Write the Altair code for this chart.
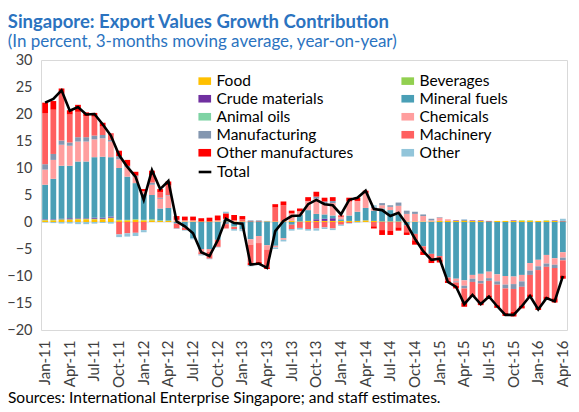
import pandas as pd
import altair as alt

months = [d.strftime("%b-%y") for d in pd.date_range("2011-01-01", "2016-04-01", freq="MS")]

series = ["Food", "Beverages", "Crude materials", "Mineral fuels", "Animal oils",
          "Chemicals", "Manufacturing", "Machinery", "Other manufactures", "Other"]
colors = ["#FFC000", "#92D050", "#7030A0", "#4A9FB6", "#7ED3A4",
          "#FF9E9E", "#8497B0", "#FF6060", "#FF0000", "#92C5DA"]
# the legend fills its columns top to bottom, so list it column by column
legend_order = ["Food", "Crude materials", "Animal oils", "Manufacturing", "Other manufactures",
                "Beverages", "Mineral fuels", "Chemicals", "Machinery", "Other"]
legend_colors = [colors[series.index(s)] for s in legend_order]

# contributions by month, Jan-11 .. Apr-16
food = [0.3, 0.3, 0.4, 0.4, 0.5, 0.5, 0.5, 0.5, 0.7, 0.3, 0.3, 0.4,
        0.3, 0.3, 0.2, 0.2, 0.1, 0.1, 0.1, 0.1, 0.1, 0.1, 0.1, 0.1,
        0.1, 0.1, 0.1, 0.1, 0.1, 0.1, 0.2, 0.1, 0.2, 0.2, 0.2, 0.2,
        0.2, 0.2, 0.2, 0.3, 0.2, 0.1, 0.1, 0.1, 0.1, 0.1, 0.1, 0.1,
        0.2, 0.2, 0.2, 0.2, 0.2, 0.2, 0.1, 0.2, 0.2, 0.2, 0.2, 0.2,
        0.2, 0.2, 0.2, 0.1]
beverages = [0.1, 0.1, 0.1, 0.1, 0.1, 0.1, 0.1, 0.1, 0.1, 0.1, 0.1, 0.1,
             0.1, 0.2, 0.1, 0.1, 0.0, 0.0, 0.0, 0.0, 0.0, 0.0, 0.0, 0.0,
             0.0, 0.0, 0.0, 0.0, 0.0, 0.0, 0.0, 0.0, 0.0, 0.0, 0.0, 0.0,
             0.0, 0.0, 0.0, 0.0, 0.0, 0.0, 0.0, 0.0, 0.0, 0.0, 0.0, 0.0,
             0.0, 0.0, 0.0, 0.1, 0.0, 0.0, 0.0, 0.0, 0.0, 0.0, 0.1, 0.1,
             0.0, 0.1, 0.0, 0.0]
crude = [0.1, 0.1, 0.1, 0.2, 0.1, 0.1, 0.2, 0.2, 0.2, 0.0, 0.0, 0.0,
         0.0, 0.0, 0.0, 0.0, 0.0, 0.0, 0.0, 0.0, 0.0, 0.0, 0.0, 0.0,
         0.0, 0.1, 0.1, 0.0, 0.0, 0.0, 0.0, 0.0, 0.0, 0.3, 0.4, 0.5,
         0.0, 0.0, 0.0, 0.0, 0.0, 0.0, 0.0, 0.0, 0.0, 0.0, 0.0, 0.0,
         0.0, 0.0, 0.1, 0.1, 0.1, 0.1, 0.1, 0.0, 0.0, 0.1, 0.0, 0.0,
         0.0, 0.0, 0.1, 0.1]
mineral = [6.4, 7.5, 9.8, 9.7, 10.5, 10.5, 11.2, 11.3, 11.0, 9.6, 8.0, 6.7,
           4.8, 4.5, 2.2, 2.3, -0.3, -1.0, -3.0, -5.0, -5.0, -3.3, 0.3, -0.8,
           -1.4, -3.2, -2.6, -4.3, -4.4, -3.0, -0.5, 1.2, 2.0, 1.0, 0.8, 0.5,
           0.3, 1.0, 1.7, 2.3, 1.9, 2.4, 2.1, 1.3, -0.6, -2.2, -4.5, -5.9,
           -6.3, -10.3, -10.5, -10.8, -9.8, -9.6, -9.2, -9.7, -10.0, -10.1, -9.8, -7.6,
           -7.0, -6.1, -6.7, -5.6]
animal = [0.0] * 23 + [-0.1] + [0.0] * 40
chemicals = [2.8, 3.5, 3.9, 3.7, 3.7, 3.7, 3.3, 3.4, 2.9, 1.6, 1.7, 1.2,
             0.5, 1.9, 1.8, 2.3, 0.3, 0.2, 0.2, -0.6, -0.5, 0.2, 0.2, 0.2,
             -0.1, -1.0, -1.3, -0.8, -0.3, -0.3, 1.4, 0.7, 1.7, 2.8, 2.0, 2.3,
             0.5, 2.6, 2.0, 2.7, 0.5, 0.6, 0.6, 1.6, 1.4, 1.4, 1.0, 0.2,
             0.6, 0.3, -0.5, -1.0, -0.7, -1.3, -1.2, -1.3, -1.6, -1.4, -1.2, -1.4,
             -1.2, -1.6, -1.2, -1.0]
manufacturing = [1.0, 1.1, 0.8, 0.6, 0.8, 0.8, 0.7, 0.6, 0.3, 0.6, 0.3, 0.2,
                 0.0, 0.4, 0.2, 0.1, 0.0, 0.0, 0.0, 0.0, 0.0, 0.0, -0.4, 0.0,
                 0.0, 0.1, 0.1, 0.1, 0.0, 0.0, 0.0, 0.0, 0.0, 0.4, 0.4, 0.4,
                 0.0, 0.0, 0.0, 0.0, 0.2, 0.4, 0.3, 0.6, 0.6, 0.4, 0.3, 0.3,
                 0.1, 0.0, -0.2, -0.5, -0.6, -0.5, -0.5, -0.6, -0.7, -0.9, -1.0, -0.8,
                 -0.7, -0.6, -0.6, -0.5]
machinery = [9.4, 8.2, 8.7, 5.2, 4.7, 3.9, 3.5, 1.6, 1.0, -2.3, -2.1, -2.0,
             -1.5, 1.4, 1.0, 1.8, -0.9, -0.5, 0.0, -0.4, -1.3, -1.3, -0.8, -0.4,
             0.4, -3.4, -3.5, -3.3, 2.6, 3.0, -0.8, -1.1, -1.3, -1.2, -1.0, -1.2,
             -0.5, -0.2, 0.0, 0.0, -0.8, -1.5, -1.6, -1.0, -1.3, -1.2, -1.0, -1.0,
             -0.7, -0.6, -0.6, -2.7, -2.4, -3.4, -2.7, -3.8, -4.5, -4.2, -3.5, -3.6,
             -6.9, -5.5, -5.6, -2.8]
other_manuf = [2.0, 1.6, 0.9, 0.8, 1.3, 0.7, 0.7, 0.7, 0.2, 1.0, 1.1, 0.7,
               0.4, 0.8, 0.6, 0.7, 0.7, 0.7, 0.7, 0.6, 0.7, 0.9, 1.0, 1.0,
               0.6, -0.4, -0.4, -0.3, 0.6, 0.7, 0.5, 0.5, 0.7, 0.9, 0.7, 0.7,
               0.2, 0.7, 0.6, 0.5, -0.4, -0.9, -0.8, -0.6, -0.5, -0.8, -0.6, -0.7,
               -0.5, -0.4, -0.5, -0.7, -0.3, -0.6, -0.4, -0.5, -0.6, -0.9, -0.5, -0.5,
               -0.5, -0.6, -0.8, -0.6]
other = [-0.1, -0.2, -0.3, -0.3, -0.4, -0.4, -0.3, -0.2, -0.3, -0.5, -0.6, -0.6,
         -0.4, 0.0, 0.0, 0.0, -0.1, -0.1, -0.2, -0.2, -0.1, -0.1, 0.3, -0.3,
         -0.2, -0.2, -0.2, 0.0, -0.3, -0.3, -0.3, -0.3, -0.3, -0.4, -0.3, -0.3,
         -0.2, -0.1, -0.1, 0.0, 0.3, 0.0, 0.0, 0.0, 0.0, 0.0, 0.0, 0.0,
         0.0, 0.0, 0.0, 0.1, 0.0, 0.0, 0.0, 0.0, 0.0, 0.0, 0.0, 0.0,
         0.0, 0.0, 0.0, 0.4]
total = [22.1, 22.8, 24.4, 20.6, 21.3, 19.9, 20.0, 18.1, 16.0, 12.4, 10.2, 8.4,
         4.1, 9.6, 6.1, 7.6, 0.1, -0.8, -2.1, -5.6, -6.3, -3.4, 0.6, -0.2,
         -0.3, -7.9, -7.7, -8.5, -1.7, 0.2, 1.1, 1.2, 3.3, 4.1, 3.3, 3.1,
         1.4, 4.1, 4.5, 5.8, 2.4, 2.2, 1.1, 1.7, -0.4, -3.1, -5.4, -7.0,
         -6.8, -11.1, -12.0, -15.2, -13.5, -15.2, -13.8, -15.6, -17.2, -17.2, -15.6, -13.7,
         -16.2, -14.1, -14.7, -10.0]

values = [food, beverages, crude, mineral, animal, chemicals,
          manufacturing, machinery, other_manuf, other]
rows = []
for k, (name, vals) in enumerate(zip(series, values)):
    for m, v in zip(months, vals):
        rows.append({"month": m, "series": name, "value": v, "order": k})
bars_df = pd.DataFrame(rows)
total_df = pd.DataFrame({"month": months, "value": total, "series": "Total"})

FONT = "Lato"

x = alt.X("month:N", sort=months,
          scale=alt.Scale(paddingInner=0.3, paddingOuter=0.15),
          axis=alt.Axis(values=months[::3], labelAngle=-90, title=None,
                        ticks=False, domain=False, labelPadding=10,
                        labelFont=FONT, labelFontSize=15, labelColor="#404040"))
y = alt.Y("value:Q", scale=alt.Scale(domain=[-20, 30], nice=False),
          axis=alt.Axis(values=list(range(-20, 31, 5)), title=None, grid=False,
                        ticks=False, domain=False, labelPadding=9,
                        labelFont=FONT, labelFontSize=14.5, labelColor="#404040"))

bars = alt.Chart(bars_df).mark_bar().encode(
    x=x,
    y=alt.Y("value:Q", stack="zero"),
    color=alt.Color("series:N",
                    scale=alt.Scale(domain=legend_order, range=legend_colors),
                    legend=alt.Legend(title=None, orient="none", legendX=156, legendY=13,
                                      columns=2, columnPadding=46, rowPadding=1,
                                      symbolType="M-1,-0.6H1V0.6H-1Z", symbolSize=160,
                                      symbolStrokeWidth=0, labelFont=FONT,
                                      labelFontSize=15.5, labelColor="#000000")),
    order=alt.Order("order:Q", sort="ascending"),
)

zero = alt.Chart(pd.DataFrame({"v": [0]})).mark_rule(color="#D9D9D9", strokeWidth=1).encode(y="v:Q")

line = alt.Chart(total_df).mark_line(strokeWidth=2.6).encode(
    x=x,
    y="value:Q",
    color=alt.Color("series:N",
                    scale=alt.Scale(domain=["Total"], range=["#000000"]),
                    legend=alt.Legend(title=None, orient="none", legendX=156, legendY=104,
                                      symbolType="stroke", symbolStrokeWidth=2.6, symbolSize=160,
                                      labelFont=FONT, labelFontSize=15.5, labelColor="#000000")),
)

footer = alt.Chart(pd.DataFrame({"t": ["Sources: International Enterprise Singapore; and staff estimates."]})).mark_text(
    align="left", baseline="alphabetic", font=FONT, fontSize=15.5, color="#000000"
).encode(text="t:N", x=alt.value(-33), y=alt.value(343))

chart = alt.layer(zero, bars, line, footer).encode(y=y).resolve_scale(color="independent").properties(
    width=526, height=270,
    autosize=alt.AutoSizeParams(type="none"),
    padding={"left": 33, "top": 52, "right": 4, "bottom": 82},
    title=alt.TitleParams(
        text="Singapore: Export Values Growth Contribution",
        subtitle="(In percent, 3-months moving average, year-on-year)",
        anchor="start", offset=2, dx=1,
        font=FONT, fontSize=18.5, fontWeight="bold", color="#2B73C0",
        subtitleFont=FONT, subtitleFontSize=17, subtitleColor="#2B73C0",
        subtitlePadding=3,
    ),
).configure_view(stroke="#D9D9D9")

chart.save("out.html", embed_options={"renderer": "svg", "actions": False})
